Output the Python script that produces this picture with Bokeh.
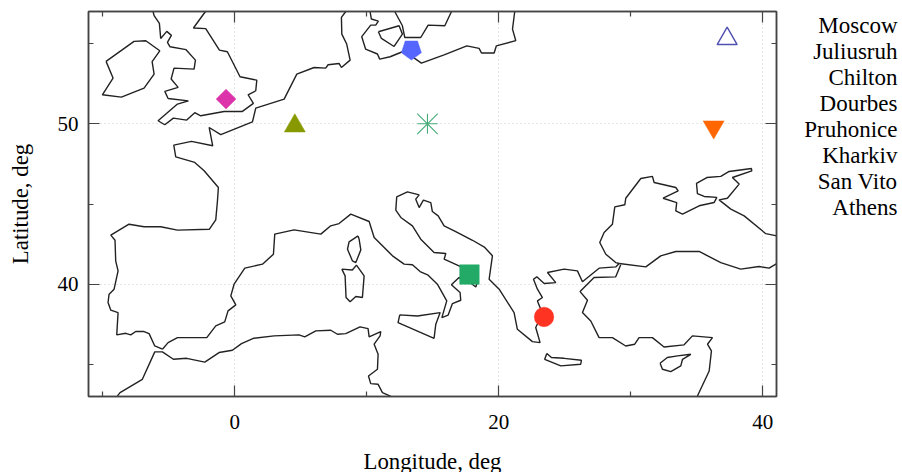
from math import pi
from bokeh.embed import file_html
from bokeh.layouts import row
from bokeh.models import FixedTicker, LinearAxis, Range1d
from bokeh.core.properties import value
from bokeh.plotting import figure
from bokeh.resources import INLINE

SERIF = "Liberation Serif"

# coastlines as (longitude list, latitude list)
ireland_lon = [-9.75, -9.22, -10.03, -8.59, -6.87, -6.11, -6.26, -5.68, -6.74, -7.63, -9.75]
ireland_lat = [53.89, 52.85, 51.81, 51.66, 52.22, 53.10, 53.87, 54.55, 55.18, 55.14, 53.89]

britain_lon = [-6.19, -6.11, -5.71, -5.61, -5.15, -4.80, -5.10, -4.90, -3.69, -2.98, -3.08, -4.60, -4.82, -4.29, -5.30,
               -5.05, -3.51, -4.34, -5.81, -5.30, -4.65, -3.64, -3.03, -2.58, -0.81, 0.58, 1.41, 1.01, 1.59, 1.67,
               0.40, -0.56, -1.16, -2.20, -3.13, -2.22]
britain_lat = [57.0, 56.74, 56.26, 55.32, 55.76, 55.51, 55.07, 54.80, 54.62, 53.97, 53.41, 53.47, 52.79, 52.27, 52.02,
               51.58, 51.43, 51.23, 50.19, 49.94, 50.35, 50.23, 50.69, 50.50, 50.77, 50.77, 51.27, 51.81, 52.06, 52.72,
               52.93, 54.49, 54.59, 55.93, 55.97, 57.0]

atlantic_lon = [-5.48, -6.06, -6.49, -6.87, -7.50, -7.88, -8.26, -8.94, -8.84, -9.39, -9.60, -9.52, -9.14, -8.84, -9.02,
                -9.07, -9.39, -8.01, -6.87, -5.61, -4.34, -1.92, -1.44, -1.31, -1.24, -2.32, -3.03, -4.47, -4.62, -3.28,
                -1.67, -1.94, -1.06, 1.34, 1.59, 3.74, 4.70, 6.01, 6.89, 7.07, 7.90, 8.08, 8.74, 8.48, 8.11, 8.08, 8.41]
atlantic_lat = [35.95, 36.15, 36.92, 37.05, 37.05, 36.84, 36.94, 36.84, 38.23, 38.38, 38.86, 39.38, 39.69, 40.83, 41.46,
                42.74, 43.06, 43.74, 43.58, 43.58, 43.37, 43.43, 44.01, 45.20, 46.03, 47.07, 47.59, 47.94, 48.67, 48.90,
                48.63, 49.77, 49.33, 50.12, 50.98, 51.54, 53.10, 53.51, 53.47, 53.68, 53.76, 53.51, 53.97, 54.97, 55.59,
                56.63, 57.0]

baltic_south_lon = [10.25, 10.35, 10.88, 10.68, 10.30, 9.62, 9.91, 10.81, 10.98, 11.77, 12.70, 13.33, 13.71, 14.14, 15.86,
                    17.58, 18.51, 18.69, 19.65, 19.82, 21.29, 21.04, 21.21]
baltic_south_lat = [57.0, 56.53, 56.40, 56.15, 56.15, 55.43, 54.66, 54.35, 54.03, 54.18, 54.49, 54.24, 54.03, 53.78, 54.30,
                    54.86, 54.70, 54.41, 54.41, 54.86, 55.18, 55.90, 57.0]

sweden_lon = [12.12, 12.70, 12.88, 14.09, 14.65, 15.91, 16.42]
sweden_lat = [57.0, 56.11, 55.38, 55.38, 56.15, 56.11, 57.0]

zealand_lon = [10.88, 12.45, 12.70, 12.07, 11.11, 10.88]
zealand_lat = [55.74, 56.11, 55.59, 54.82, 55.32, 55.74]

med_north_lon = [-5.48, -5.05, -4.34, -2.12, -1.44, -0.76, -0.51, 0.08, -0.30, -0.05, 0.76, 2.10, 2.93, 3.03, 4.49,
                 6.52, 7.27, 7.90, 8.79, 10.18, 10.56, 11.95, 12.83, 13.46, 14.04, 14.65, 15.35, 16.06, 15.69, 16.16,
                 16.49, 17.12, 17.07, 16.41, 16.99, 17.50, 17.99, 18.26, 18.44, 16.99, 15.86, 15.99, 15.10, 14.09, 13.46,
                 12.58, 12.20, 12.27, 13.08, 13.97, 13.71, 13.97, 14.29, 14.85, 14.97, 15.41, 15.86, 16.74, 18.01, 18.94,
                 19.52, 19.27, 20.03, 21.16, 21.41, 22.55, 23.13, 22.80, 23.18, 23.18, 22.93, 23.31, 22.93, 22.63, 22.88,
                 23.44, 24.32, 23.69, 24.95, 25.96, 26.34, 27.60, 28.86, 29.12]
med_north_lat = [35.95, 36.36, 36.67, 36.67, 37.40, 37.65, 38.34, 38.71, 39.27, 40.00, 41.00, 41.25, 41.87, 43.12, 43.39,
                 43.12, 43.64, 43.78, 44.37, 43.91, 42.91, 41.77, 41.25, 41.21, 40.79, 40.56, 40.00, 38.96, 37.92, 38.07,
                 38.79, 39.00, 39.48, 39.96, 40.42, 40.21, 40.00, 39.83, 40.31, 41.14, 41.56, 41.91, 41.98, 42.81, 43.64,
                 44.16, 44.62, 45.45, 45.76, 45.57, 45.30, 44.78, 45.24, 45.09, 44.53, 44.26, 43.64, 43.28, 42.74, 42.29,
                 41.77, 40.31, 39.69, 38.23, 37.19, 36.42, 36.36, 37.30, 37.96, 38.44, 38.96, 39.17, 39.69, 40.31, 40.46,
                 40.04, 40.10, 40.73, 40.94, 40.83, 40.15, 41.00, 41.08, 41.29]

black_sea_lon = [29.12, 28.86, 28.11, 27.65, 27.98, 28.61, 28.79, 29.55, 29.62, 30.76, 31.64, 31.77, 33.41, 33.59, 32.45,
                 33.48, 33.41, 33.92, 35.18, 36.31, 36.52, 35.56, 35.05, 34.98, 35.76, 36.82, 37.45, 39.14, 39.17, 37.70,
                 38.21, 37.32, 36.69, 37.58, 38.59, 40.23, 41.06]
black_sea_lat = [41.29, 41.35, 41.87, 42.60, 43.22, 43.74, 44.82, 44.95, 45.36, 46.59, 46.72, 46.34, 46.03, 45.82, 45.36,
                 45.09, 44.57, 44.37, 44.89, 45.09, 45.41, 45.47, 45.65, 46.28, 46.65, 46.72, 47.03, 47.21, 47.07, 46.65,
                 46.24, 45.36, 45.26, 44.68, 44.26, 43.15, 43.01]

turkey_north_lon = [29.12, 31.14, 32.27, 33.41, 35.18, 36.82, 38.33, 39.72, 40.48, 41.06]
turkey_north_lat = [41.29, 41.08, 41.77, 42.04, 42.04, 41.35, 40.94, 41.10, 41.00, 41.29]

turkey_south_lon = [29.24, 28.86, 27.22, 26.16, 26.72, 26.34, 26.97, 27.60, 28.61, 29.62, 30.30, 30.63, 31.64, 32.52, 34.04,
                    34.67, 36.19, 35.81, 36.11, 35.94, 35.05]
turkey_south_lat = [41.21, 40.46, 40.42, 39.54, 39.00, 38.23, 37.71, 36.67, 36.67, 36.15, 36.26, 36.67, 36.67, 36.09, 36.22,
                    36.78, 36.67, 36.26, 35.84, 34.59, 33.03]

crete_lon = [23.64, 23.48, 24.70, 26.21, 26.26, 24.95, 23.99, 23.64]
crete_lat = [35.68, 35.32, 34.91, 35.01, 35.26, 35.38, 35.43, 35.68]

cyprus_lon = [32.22, 32.40, 33.03, 33.79, 33.92, 34.55, 33.54, 32.77, 32.22]
cyprus_lat = [35.07, 34.70, 34.55, 34.91, 35.32, 35.63, 35.53, 35.43, 35.07]

sardinia_lon = [8.11, 8.36, 8.43, 8.74, 9.17, 9.67, 9.80, 9.22, 8.91, 8.11]
sardinia_lat = [40.94, 40.52, 39.17, 38.90, 39.23, 39.17, 40.52, 41.19, 40.89, 40.94]

corsica_lon = [9.34, 8.66, 8.54, 8.91, 9.17, 9.55, 9.42, 9.34]
corsica_lat = [43.01, 42.64, 42.18, 41.46, 41.35, 42.14, 42.81, 43.01]

sicily_lon = [12.50, 12.37, 15.10, 15.23, 15.56, 13.84, 12.50]
sicily_lat = [38.09, 37.61, 36.63, 37.51, 38.23, 38.02, 38.09]

africa_lon = [-8.89, -8.69, -7.00, -6.06, -5.48, -4.65, -3.64, -2.27, -1.19, -0.18, 0.51, 1.41, 2.98, 4.87, 5.30,
              6.14, 7.27, 7.78, 8.41, 9.49, 10.10, 10.18, 11.06, 11.01, 10.56, 10.86, 10.81, 10.13, 10.30, 10.86,
              11.19, 11.82]
africa_lat = [33.04, 33.24, 34.07, 35.78, 35.78, 35.32, 35.38, 35.14, 35.74, 35.88, 36.30, 36.63, 36.78, 36.84, 36.72,
              37.09, 37.13, 36.88, 36.92, 37.34, 37.23, 36.72, 37.05, 36.78, 36.26, 35.63, 34.70, 34.28, 33.80, 33.76,
              33.24, 33.01]

coast_lons = [ireland_lon, britain_lon, atlantic_lon, baltic_south_lon, sweden_lon, zealand_lon, med_north_lon,
              black_sea_lon, turkey_north_lon, turkey_south_lon, crete_lon, cyprus_lon, sardinia_lon, corsica_lon,
              sicily_lon, africa_lon]
coast_lats = [ireland_lat, britain_lat, atlantic_lat, baltic_south_lat, sweden_lat, zealand_lat, med_north_lat,
              black_sea_lat, turkey_north_lat, turkey_south_lat, crete_lat, cyprus_lat, sardinia_lat, corsica_lat,
              sicily_lat, africa_lat]

stations = ["Moscow", "Juliusruh", "Chilton", "Dourbes", "Pruhonice", "Kharkiv", "San Vito", "Athens"]
station_lon = [37.3, 13.38, -0.66, 4.55, 14.6, 36.28, 17.78, 23.43]
station_lat = [55.3, 54.63, 51.54, 49.87, 50.0, 49.8, 40.6, 37.96]

x_major = [0, 20, 40]
x_minor = [-10, 10, 30]
y_major = [40, 50]
y_minor = [35, 45, 55]

p = figure(width=786, height=476, output_backend="svg", toolbar_location=None,
           x_range=Range1d(-11.08, 41.04), y_range=Range1d(33, 57),
           min_border_left=88, min_border_right=10, min_border_top=11, min_border_bottom=80,
           x_axis_label="Longitude, deg", y_axis_label="Latitude, deg")
p.outline_line_color = "#444444"
p.outline_line_width = 1.5
p.background_fill_color = "white"

x_tick = FixedTicker(ticks=x_major, minor_ticks=x_minor)
y_tick = FixedTicker(ticks=y_major, minor_ticks=y_minor)
p.add_layout(LinearAxis(major_label_overrides={t: "" for t in x_major}), "above")
p.add_layout(LinearAxis(major_label_overrides={t: "" for t in y_major}), "right")

for ax in p.xaxis + p.yaxis:
    ax.major_tick_in = 11
    ax.major_tick_out = 0
    ax.minor_tick_in = 5
    ax.minor_tick_out = 0
    ax.axis_line_color = "#444444"
    ax.axis_line_width = 1.5
    ax.major_tick_line_color = "#444444"
    ax.minor_tick_line_color = "#444444"
    ax.major_tick_line_width = 1.2
    ax.minor_tick_line_width = 1.2
    ax.major_label_text_font = SERIF
    ax.major_label_text_font_size = "21px"
    ax.major_label_text_color = "black"
    ax.axis_label_text_font = SERIF
    ax.axis_label_text_font_size = "22.8px"
    ax.axis_label_text_font_style = "normal"
    ax.axis_label_text_color = "black"
for ax in p.xaxis:
    ax.ticker = x_tick
for ax in p.yaxis:
    ax.ticker = y_tick
p.below[0].major_label_standoff = 18
p.below[0].axis_label_standoff = 17
p.left[0].major_label_standoff = 10
p.left[0].axis_label_standoff = 22

for g in (p.xgrid, p.ygrid):
    g.grid_line_color = "#cccccc"
    g.grid_line_dash = "1 3"
    g.grid_line_width = 1
p.xgrid.ticker = FixedTicker(ticks=x_major)
p.ygrid.ticker = FixedTicker(ticks=y_major)

p.multi_line(xs=coast_lons, ys=coast_lats, line_color="#222222", line_width=1.4)

i = {name: n for n, name in enumerate(stations)}
def at(name):
    return [station_lon[i[name]]], [station_lat[i[name]]]

x, y = at("Moscow")
p.scatter(x, y, marker="triangle", size=20, fill_color=None, line_color="#5050b0", line_width=1.4)
x, y = at("Juliusruh")
p.ngon(x=x, y=y, radius=dict(value=10.5, units="screen"), n=5, angle=pi,
       fill_color="#5566ff", line_color="#5566ff", line_width=0.5)
x, y = at("Chilton")
p.scatter(x, y, marker="square", size=14, angle=pi / 4, fill_color="#dd33aa", line_color="#dd33aa", line_width=0.5)
x, y = at("Dourbes")
p.scatter(x, y, marker="triangle", size=21, fill_color="#889900", line_color="#889900", line_width=0.5)
x, y = at("Pruhonice")
p.scatter(x, y, marker="cross", size=20, fill_color=None, line_color="#44aa77", line_width=1.1)
p.scatter(x, y, marker="x", size=29, fill_color=None, line_color="#44aa77", line_width=1.1)
x, y = at("Kharkiv")
p.scatter(x, y, marker="inverted_triangle", size=21, fill_color="#ff6600", line_color="#ff6600", line_width=0.5)
x, y = at("San Vito")
p.scatter(x, y, marker="square", size=19.5, fill_color="#22aa66", line_color="#22aa66", line_width=0.5)
x, y = at("Athens")
p.scatter(x, y, marker="circle", size=19.5, fill_color="#ff3322", line_color="#ff3322", line_width=0.5)

# name list beside the map: its frame lines up with the map frame, so the axes run in page pixels
q = figure(width=116, height=476, output_backend="svg", toolbar_location=None,
           x_range=Range1d(786, 902), y_range=Range1d(396, 11),
           min_border=0, x_axis_type=None, y_axis_type=None, outline_line_color=None)
q.grid.visible = False
q.text(x=[897] * len(stations), y=[25 + 26 * n for n in range(len(stations))], text=stations,
       text_font=value(SERIF), text_font_size="23px", text_color="black",
       text_align="right", text_baseline="middle")

open("out.html", "w").write(file_html(row(p, q), INLINE))
